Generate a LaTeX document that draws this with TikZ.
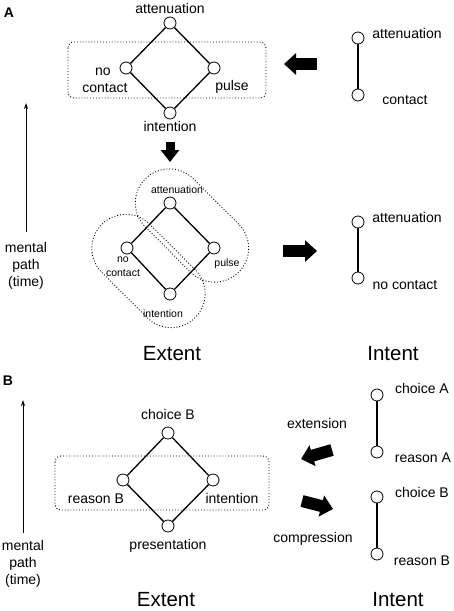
\documentclass[tikz,border=0pt]{standalone}
\usepackage{fontspec}
\setmainfont{Liberation Sans}
\usetikzlibrary{arrows.meta,calc}

\begin{document}
\begin{tikzpicture}[x=1pt,y=-1pt,
		smallvertex/.style={circle,draw,fill=white,minimum size=12pt,inner sep=0pt,line width=0.8pt},
		lbl/.style={anchor=base,inner sep=0pt,font=\fontsize{14}{17}\selectfont},
		smalllbl/.style={anchor=base,inner sep=0pt,font=\fontsize{10.5}{13}\selectfont},
		biglbl/.style={anchor=base,inner sep=0pt,font=\fontsize{20.5}{24}\selectfont},
		panel/.style={anchor=base,inner sep=0pt,font=\fontsize{14}{17}\selectfont\bfseries},
		pathlbl/.style={align=center,inner sep=0pt,font=\fontsize{14}{17}\selectfont},
		link/.style={line width=1.3pt},
		hullbox/.style={draw,dotted,line width=0.9pt},
		blockarrow/.style={line width=12pt,-{Triangle[length=12pt,width=21pt]}},
		timearrow/.style={line width=0.8pt,-{Stealth[length=6pt,width=4pt]}}
		]
		\useasboundingbox (0,0) rectangle (454,611);
		
		% panel A, first lattice
		\node[panel](pA) at (9,17){A};
		\node[smallvertex](aT) at (170,23){};
		\node[smallvertex](aL) at (126,68){};
		\node[smallvertex](aR) at (214,68){};
		\node[smallvertex](aB) at (170,113){};
		\draw[link] (aT) -- (aL) -- (aB) -- (aR) -- (aT);
		\node[lbl](laT) at (170,13){attenuation};
		\node[lbl](laL1) at (103,75){no};
		\node[lbl](laL2) at (105,92){contact};
		\node[lbl](laR) at (232,90){pulse};
		\node[lbl](laB) at (170,131){intention};
		\draw[hullbox, rounded corners=6pt] (68,42) rectangle (266,98);
		
		\node[smallvertex](iT) at (358,38){};
		\node[smallvertex](iB) at (358,95){};
		\draw[link] (iT) -- (iB);
		\node[lbl](liT) at (407,38){attenuation};
		\node[lbl](liB) at (405,104){contact};
		
		\coordinate (arA1s) at (317,64);
		\coordinate (arA1e) at (284,64);
		\draw[blockarrow] (arA1s) -- (arA1e);
		\coordinate (arA2s) at (170,142);
		\coordinate (arA2e) at (170,162);
		\draw[line width=9pt,-{Triangle[length=12pt,width=18pt]}] (arA2s) -- (arA2e);
		
		% panel A, second lattice
		\node[smallvertex](bT) at (170,203){};
		\node[smallvertex](bL) at (127,248){};
		\node[smallvertex](bR) at (214,248){};
		\node[smallvertex](bB) at (170,294){};
		\draw[link] (bT) -- (bL) -- (bB) -- (bR) -- (bT);
		\node[hullbox, rotate=-45, minimum width=132pt, minimum height=68pt,
		rounded corners=34pt](hullUp) at ($(bT)!0.5!(bR)$){};
		\node[hullbox, rotate=-45, minimum width=132pt, minimum height=68pt,
		rounded corners=34pt](hullDn) at ($(bL)!0.5!(bB)$){};
		\node[smalllbl](lbT) at (177,193){attenuation};
		\node[smalllbl](lbL1) at (123,262){no};
		\node[smalllbl](lbL2) at (123,276){contact};
		\node[smalllbl](lbR) at (227,266){pulse};
		\node[smalllbl](lbB) at (163,317){intention};
		
		\node[smallvertex](jT) at (358,222){};
		\node[smallvertex](jB) at (358,278){};
		\draw[link] (jT) -- (jB);
		\node[lbl](ljT) at (407,222){attenuation};
		\node[lbl](ljB) at (405,289){no contact};
		
		\coordinate (arA3s) at (283,251);
		\coordinate (arA3e) at (317,251);
		\draw[blockarrow] (arA3s) -- (arA3e);
		
		\coordinate (tA1) at (26,232);
		\coordinate (tA2) at (26,103);
		\draw[timearrow] (tA1) -- (tA2);
		\node[pathlbl](pathA) at (26,266){mental\\path\\(time)};
		\node[biglbl](extA) at (172,360){Extent};
		\node[biglbl](intA) at (393,360){Intent};
		
		% panel B
		\node[panel](pB) at (8,385){B};
		\node[smallvertex](cT) at (168,433){};
		\node[smallvertex](cL) at (123,480){};
		\node[smallvertex](cR) at (213,480){};
		\node[smallvertex](cB) at (168,526){};
		\draw[link] (cT) -- (cL) -- (cB) -- (cR) -- (cT);
		\node[lbl](lcT) at (168,419){choice B};
		\node[lbl](lcL) at (96,503){reason B};
		\node[lbl](lcR) at (232,503){intention};
		\node[lbl](lcB) at (168,549){presentation};
		\draw[hullbox, rounded corners=6pt] (55,456) rectangle (269,510);
		
		\node[smallvertex](kT) at (377,395){};
		\node[smallvertex](kB) at (377,452){};
		\draw[link] (kT) -- (kB);
		\node[lbl](lkT) at (422,393){choice A};
		\node[lbl](lkB) at (423,462){reason A};
		\node[smallvertex](mT) at (377,497){};
		\node[smallvertex](mB) at (377,554){};
		\draw[link] (mT) -- (mB);
		\node[lbl](lmT) at (422,497){choice B};
		\node[lbl](lmB) at (422,565){reason B};
		
		\coordinate (arB1s) at (332,450);
		\coordinate (arB1e) at (301,459);
		\draw[blockarrow] (arB1s) -- (arB1e);
		\node[lbl](lext) at (317,428){extension};
		\coordinate (arB2s) at (302,501);
		\coordinate (arB2e) at (333,509);
		\draw[blockarrow] (arB2s) -- (arB2e);
		\node[lbl](lcomp) at (313,542){compression};
		
		\coordinate (tB1) at (23,533);
		\coordinate (tB2) at (23,400);
		\draw[timearrow] (tB1) -- (tB2);
		\node[pathlbl](pathB) at (23,564){mental\\path\\(time)};
		\node[biglbl](extB) at (166,606){Extent};
		\node[biglbl](intB) at (398,606){Intent};
	\end{tikzpicture}
\end{document}
